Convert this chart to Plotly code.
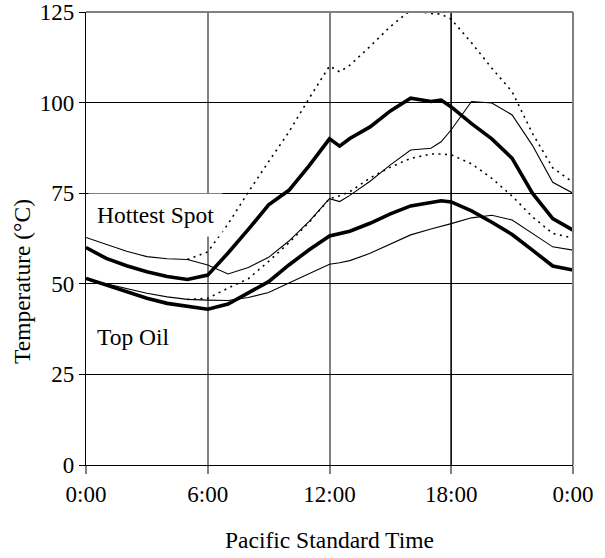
import plotly.graph_objects as go

hours = [0, 1, 2, 3, 4, 5, 6, 7, 8, 9, 10, 11, 12, 12.5, 13, 14, 15, 16, 17, 17.5, 18, 19, 20, 21, 22, 23, 24]

hs_thick = [60, 57.0, 55.0, 53.3, 52.0, 51.2, 52.4, 58.5, 65.0, 71.8, 75.8, 82.6, 90, 88, 90.1, 93.3, 97.7, 101.2, 100.3, 100.7, 98.8, 94.2, 90.0, 84.6, 75.0, 68.0, 64.8]
hs_thin = [62.8, 60.8, 59.0, 57.5, 56.9, 56.7, 55.2, 52.7, 54.5, 57.3, 61.8, 67.2, 73.5, 72.7, 74.4, 78.3, 82.8, 86.9, 87.4, 89.2, 92.5, 100.3, 99.9, 96.6, 88.2, 78.0, 75.0]
hs_dot = [None, None, None, None, None, 56.7, 58.8, 66.5, 75.3, 83.7, 91.9, 101.2, 110.1, 108.5, 110.3, 115.5, 121.0, 125.5, 124.6, 124.4, 123.0, 116.5, 109.5, 103.0, 91.5, 82.0, 78.0]

to_thick = [51.5, 49.6, 47.8, 46.0, 44.6, 43.7, 43.0, 44.4, 47.4, 50.6, 55.2, 59.4, 63.2, 63.8, 64.5, 66.7, 69.3, 71.5, 72.4, 72.9, 72.6, 70.1, 67.0, 63.6, 59.3, 54.9, 53.8]
to_thin = [51.3, 50.0, 48.6, 47.4, 46.4, 45.7, 45.5, 45.4, 46.2, 47.6, 50.2, 52.9, 55.4, 55.8, 56.4, 58.4, 61.0, 63.5, 65.1, 65.8, 66.6, 68.2, 68.9, 67.6, 63.9, 60.2, 59.3]
to_dot = [None, None, None, None, None, 45.7, 46.0, 48.8, 51.4, 56.2, 61.3, 67.0, 73.5, 74.3, 75.4, 79.2, 82.2, 84.6, 85.8, 85.8, 85.6, 83.1, 79.1, 74.2, 68.5, 63.9, 62.6]

x_ticks = [0, 6, 12, 18, 24]
x_tick_labels = ["0:00", "6:00", "12:00", "18:00", "0:00"]
y_ticks = [0, 25, 50, 75, 100, 125]

FONT = "Liberation Serif, Times New Roman, serif"
FS = 23

fig = go.Figure()

def add(y, width, dash="solid"):
    fig.add_trace(go.Scatter(x=hours, y=y, mode="lines",
                             line=dict(color="black", width=width, dash=dash, shape="linear"),
                             connectgaps=False, showlegend=False, hoverinfo="skip"))

add(to_thin, 1.1)
add(hs_thin, 1.1)
add(to_dot, 1.6, "2px,4.5px")
add(hs_dot, 1.6, "2px,4.5px")
add(to_thick, 3.6)
add(hs_thick, 3.6)

shapes = [
    dict(type="line", xref="x", yref="paper", x0=18, x1=18, y0=0, y1=1,
         line=dict(color="black", width=1.2)),
    dict(type="line", xref="paper", yref="paper", x0=0, x1=1, y0=1, y1=1,
         line=dict(color="#808080", width=2)),
    dict(type="line", xref="paper", yref="paper", x0=1, x1=1, y0=0, y1=1,
         line=dict(color="#808080", width=2)),
]

def px_x(px):
    return (px - 86) / 487

def px_y(py):
    return (465 - py) / 453

annotations = [
    dict(text="Hottest Spot", x=px_x(155), y=px_y(215), xref="paper", yref="paper",
         xanchor="center", yanchor="middle", showarrow=False,
         bgcolor="white", borderpad=8,
         font=dict(family=FONT, size=23.5, color="black")),
    dict(text="Top Oil", x=px_x(133), y=px_y(337), xref="paper", yref="paper",
         xanchor="center", yanchor="middle", showarrow=False,
         font=dict(family=FONT, size=23.5, color="black")),
    dict(text="Pacific Standard Time", x=0.5, y=px_y(540), xref="paper", yref="paper",
         xanchor="center", yanchor="middle", showarrow=False,
         font=dict(family=FONT, size=23.5, color="black")),
    dict(text="Temperature (°C)", x=px_x(22), y=px_y(282), xref="paper", yref="paper",
         xanchor="center", yanchor="middle", showarrow=False, textangle=-90,
         font=dict(family=FONT, size=23.5, color="black")),
]

fig.update_layout(
    width=605, height=558,
    margin=dict(l=86, r=32, t=12, b=93, autoexpand=False),
    paper_bgcolor="white", plot_bgcolor="white",
    font=dict(family=FONT, size=FS, color="black"),
    shapes=shapes, annotations=annotations,
    xaxis=dict(range=[0, 24], tickvals=x_ticks, ticktext=x_tick_labels,
               showgrid=True, gridcolor="#808080", gridwidth=1.6,
               showline=True, linecolor="black", linewidth=1.2,
               ticks="outside", ticklen=8, tickcolor="#808080", tickwidth=1.6,
               zeroline=False, fixedrange=True, automargin=False),
    yaxis=dict(range=[0, 125], tickvals=y_ticks,
               showgrid=True, gridcolor="black", gridwidth=1,
               showline=True, linecolor="black", linewidth=1.2,
               ticks="outside", ticklen=6, tickcolor="black", tickwidth=1,
               zeroline=False, fixedrange=True, automargin=False),
)

fig.write_html("out.html", config={"displayModeBar": False},
               post_script="document.body.style.margin='0px';")
